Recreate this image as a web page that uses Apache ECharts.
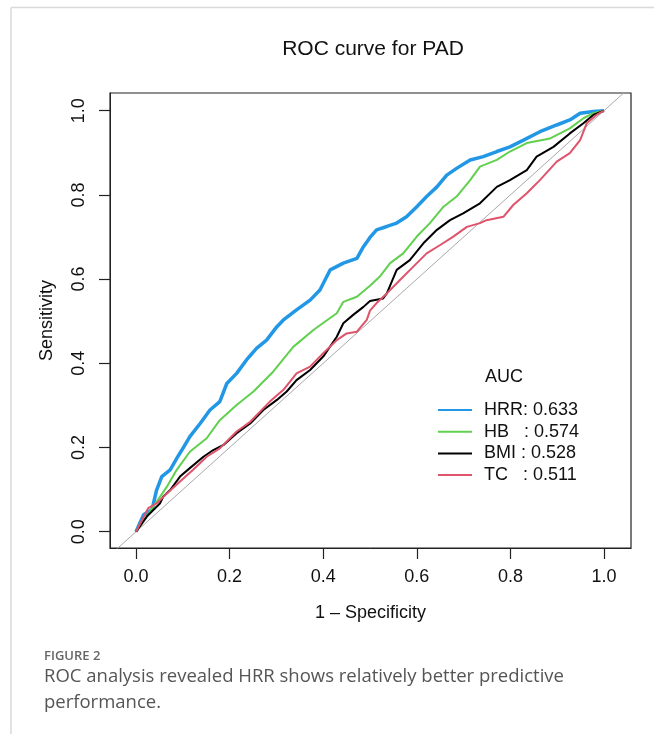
<!DOCTYPE html>
<html>
<head>
<meta charset="utf-8">
<title>ROC curve for PAD</title>
<script src="https://cdn.jsdelivr.net/npm/echarts@6.0.0/dist/echarts.min.js"></script>
<style>
  html, body { margin: 0; padding: 0; background: #fff; }
  #main { width: 654px; height: 734px; }
</style>
</head>
<body>
<div id="main"></div>
<script>
// tick positions on both axes
var tickValues = [0, 0.2, 0.4, 0.6, 0.8, 1.0];

// legend names (AUC values)
var seriesNames = ['HRR: 0.633', 'HB   : 0.574', 'BMI : 0.528', 'TC   : 0.511'];
var seriesColors = ['#2297E6', '#61D04F', '#000000', '#DF536B'];

// reference line (chance)
var diagonal = [[-0.1, -0.1], [1.1, 1.1]];

// [1 - specificity, sensitivity]
var hrrPoints = [
  [0, 0], [0.016, 0.04], [0.034, 0.052], [0.044, 0.099], [0.055, 0.131], [0.073, 0.147],
  [0.087, 0.174], [0.098, 0.194], [0.115, 0.226], [0.137, 0.257], [0.158, 0.289], [0.179, 0.309],
  [0.194, 0.352], [0.215, 0.376], [0.236, 0.408], [0.258, 0.436], [0.279, 0.455], [0.301, 0.487],
  [0.315, 0.503], [0.343, 0.527], [0.372, 0.55], [0.393, 0.574], [0.415, 0.622], [0.443, 0.638],
  [0.472, 0.649], [0.486, 0.677], [0.5, 0.699], [0.514, 0.717], [0.536, 0.725], [0.557, 0.733],
  [0.578, 0.748], [0.6, 0.772], [0.621, 0.796], [0.643, 0.819], [0.664, 0.847], [0.685, 0.863],
  [0.714, 0.883], [0.742, 0.891], [0.771, 0.903], [0.799, 0.914], [0.828, 0.93], [0.863, 0.95],
  [0.899, 0.966], [0.927, 0.978], [0.949, 0.994], [0.977, 0.998], [1, 1]
];
var hbPoints = [
  [0, 0], [0.023, 0.036], [0.044, 0.071], [0.066, 0.107], [0.087, 0.147], [0.115, 0.19],
  [0.151, 0.222], [0.179, 0.265], [0.215, 0.301], [0.251, 0.333], [0.293, 0.38], [0.336, 0.439],
  [0.379, 0.479], [0.429, 0.519], [0.443, 0.546], [0.472, 0.558], [0.5, 0.584], [0.521, 0.606],
  [0.543, 0.638], [0.571, 0.661], [0.6, 0.701], [0.628, 0.733], [0.657, 0.772], [0.685, 0.796],
  [0.714, 0.835], [0.735, 0.867], [0.771, 0.883], [0.799, 0.903], [0.835, 0.923], [0.885, 0.934],
  [0.927, 0.958], [0.956, 0.982], [0.977, 0.994], [1, 1]
];
var bmiPoints = [
  [0, 0], [0.023, 0.036], [0.051, 0.067], [0.058, 0.083], [0.073, 0.099], [0.094, 0.131],
  [0.115, 0.151], [0.144, 0.178], [0.165, 0.194], [0.187, 0.206], [0.215, 0.234], [0.244, 0.257],
  [0.272, 0.289], [0.301, 0.313], [0.322, 0.333], [0.343, 0.36], [0.372, 0.384], [0.4, 0.416],
  [0.429, 0.463], [0.443, 0.495], [0.464, 0.515], [0.486, 0.534], [0.5, 0.548], [0.528, 0.554],
  [0.536, 0.566], [0.557, 0.622], [0.585, 0.645], [0.614, 0.685], [0.643, 0.717], [0.671, 0.74],
  [0.699, 0.756], [0.735, 0.78], [0.771, 0.819], [0.799, 0.835], [0.835, 0.859], [0.856, 0.891],
  [0.892, 0.914], [0.927, 0.946], [0.956, 0.97], [0.977, 0.99], [1, 1]
];
var tcPoints = [
  [0, 0], [0.026, 0.056], [0.044, 0.067], [0.066, 0.091], [0.094, 0.119], [0.122, 0.147],
  [0.151, 0.178], [0.179, 0.198], [0.215, 0.238], [0.244, 0.261], [0.286, 0.309], [0.315, 0.337],
  [0.343, 0.376], [0.372, 0.392], [0.4, 0.424], [0.429, 0.455], [0.45, 0.471], [0.472, 0.475],
  [0.493, 0.503], [0.5, 0.525], [0.514, 0.543], [0.536, 0.566], [0.564, 0.598], [0.592, 0.629],
  [0.621, 0.661], [0.65, 0.681], [0.678, 0.701], [0.707, 0.724], [0.735, 0.733], [0.749, 0.74],
  [0.785, 0.748], [0.806, 0.776], [0.835, 0.804], [0.863, 0.835], [0.899, 0.879], [0.927, 0.899],
  [0.949, 0.93], [0.963, 0.97], [0.984, 0.99], [1, 1]
];

var allPoints = [hrrPoints, hbPoints, bmiPoints, tcPoints];
var lineWidths = [3.5, 2, 2, 2];

var chart = echarts.init(document.getElementById('main'));

var font = '"Liberation Sans", Arial, Helvetica, sans-serif';

var rocSeries = allPoints.map(function (pts, i) {
  return {
    name: seriesNames[i],
    type: 'line',
    data: pts,
    symbol: 'none',
    animation: false,
    lineStyle: { color: seriesColors[i], width: lineWidths[i] },
    itemStyle: { color: seriesColors[i] }
  };
});

var axisCommon = {
  type: 'value',
  splitLine: { show: false },
  axisLine: { show: true, onZero: false, lineStyle: { color: '#222', width: 1 } },
  axisTick: { show: true, customValues: tickValues, length: 11, lineStyle: { color: '#222', width: 1.2 } },
  nameLocation: 'middle',
  nameTextStyle: { fontFamily: font, fontSize: 18, color: '#111' }
};

chart.setOption({
  backgroundColor: '#fff',
  animation: false,
  textStyle: { fontFamily: font },
  title: {
    text: 'ROC curve for PAD',
    left: 368,
    top: 34,
    textAlign: 'center',
    textStyle: { fontFamily: font, fontSize: 21, fontWeight: 'normal', color: '#111' }
  },
  grid: {
    left: 110, right: 23, top: 93, bottom: 186,
    show: true, borderColor: '#222', borderWidth: 1.2, backgroundColor: 'transparent'
  },
  xAxis: Object.assign({}, axisCommon, {
    min: -0.0556, max: 1.0577,
    name: '1 \u2013 Specificity',
    nameGap: 56,
    axisLabel: {
      customValues: tickValues, margin: 20, fontSize: 18, color: '#111', fontFamily: font,
      formatter: function (v) { return v.toFixed(1); }
    }
  }),
  yAxis: Object.assign({}, axisCommon, {
    min: -0.0387, max: 1.042,
    name: 'Sensitivity',
    nameGap: 54,
    axisLabel: {
      customValues: tickValues, margin: 22, fontSize: 18, color: '#111', fontFamily: font, rotate: 90,
      formatter: function (v) { return v.toFixed(1); }
    }
  }),
  legend: {
    orient: 'vertical',
    left: 433,
    top: 396,
    icon: 'rect',
    itemWidth: 34,
    itemHeight: 2,
    itemGap: 3.7,
    data: seriesNames,
    selectedMode: false,
    textStyle: { fontFamily: font, fontSize: 18, color: '#111', lineHeight: 18, padding: [0, 0, 0, 7] }
  },
  graphic: [
    { type: 'line', shape: { x1: 11, y1: 7.5, x2: 654, y2: 7.5 }, style: { stroke: '#d9d9d9', lineWidth: 1.5 }, silent: true },
    { type: 'line', shape: { x1: 11, y1: 7.5, x2: 11, y2: 734 }, style: { stroke: '#d9d9d9', lineWidth: 1.5 }, silent: true },
    { type: 'text', left: 485, top: 368, style: { text: 'AUC', font: '18px ' + font, fill: '#111' } },
    { type: 'text', left: 44, top: 650, style: { text: 'FIGURE 2', font: '600 13px "Open Sans", sans-serif', fill: '#666' } },
    { type: 'text', left: 44, top: 667, style: { text: 'ROC analysis revealed HRR shows relatively better predictive', font: '18.5px "Open Sans", sans-serif', fill: '#555' } },
    { type: 'text', left: 44, top: 693, style: { text: 'performance.', font: '18.5px "Open Sans", sans-serif', fill: '#555' } }
  ],
  series: [{
    name: 'diag',
    type: 'line',
    data: diagonal,
    symbol: 'none',
    silent: true,
    lineStyle: { color: '#a8a8a8', width: 1 }
  }].concat(rocSeries)
});
</script>
</body>
</html>
